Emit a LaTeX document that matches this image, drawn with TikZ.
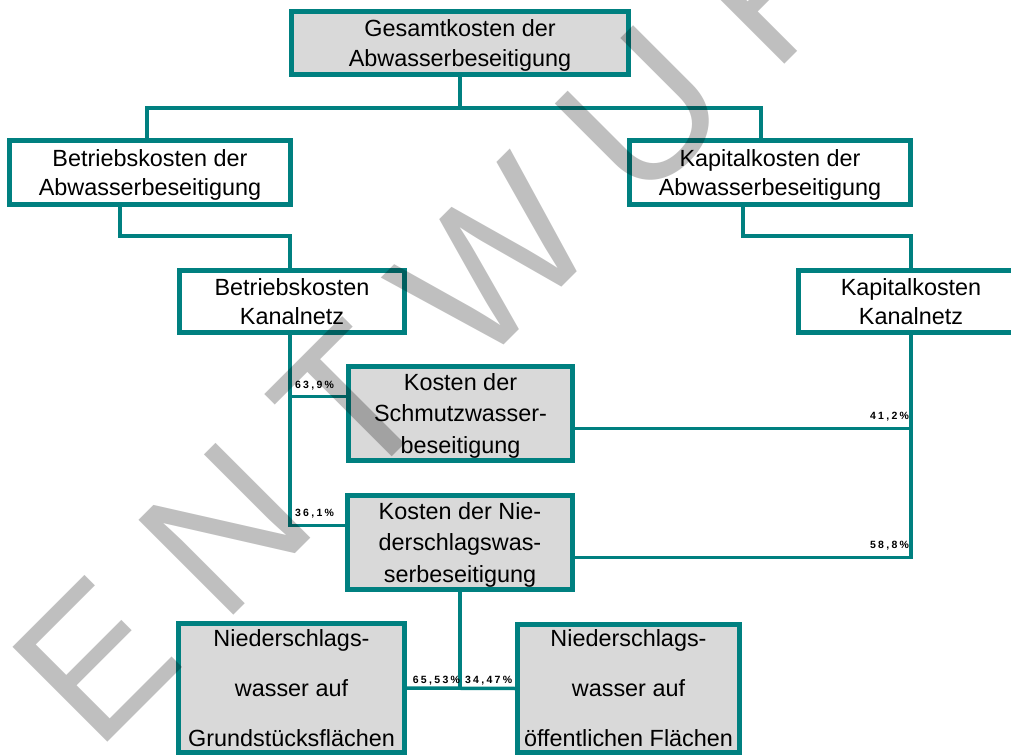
\documentclass[tikz,border=0pt]{standalone}
\usepackage{fontspec}
\setmainfont{Liberation Sans}
\newfontfamily\pctfont[LetterSpace=22]{Liberation Sans}
\newfontfamily\stampfont[LetterSpace=25]{Liberation Sans}
\usepackage{tikz}

\begin{document}
\begin{tikzpicture}[x=1pt,y=1pt,
  box/.style={draw=lineColor,line width=5pt,rectangle,align=center,inner sep=0pt,
    text depth=0pt,font=\fontsize{23.4}{29.5}\selectfont},
  greybox/.style={box,fill=fillColor},
  link/.style={draw=lineColor,line width=3.5pt},
  pct/.style={text=black,inner sep=0pt,outer sep=0pt,
    font=\pctfont\bfseries\fontsize{10.5}{12}\selectfont},
  stamp/.style={text=black,text opacity=0.25,inner sep=0pt,outer sep=0pt,
    font=\stampfont\fontsize{195}{195}\selectfont}]
\definecolor{lineColor}{RGB}{0,128,128}
\definecolor{fillColor}{RGB}{217,217,217}
\path[use as bounding box,fill=white] (0,0) rectangle (1011,755);
\clip (0,0) rectangle (1011,755);

% Kostenarten
\node[greybox,minimum width=337,minimum height=63] (total) at (460,712)
  {Gesamtkosten der\\Abwasserbeseitigung};
\node[box,minimum width=281,minimum height=64] (opCost) at (150,582.5)
  {Betriebskosten der\\Abwasserbeseitigung};
\node[box,minimum width=281,minimum height=64] (capCost) at (770,582.5)
  {Kapitalkosten der\\Abwasserbeseitigung};
\node[box,minimum width=225,minimum height=62] (opNet) at (292,453.5)
  {Betriebskosten\\Kanalnetz};
\node[box,minimum width=225,minimum height=62] (capNet) at (911,453.5)
  {Kapitalkosten\\Kanalnetz};
\node[greybox,minimum width=224,minimum height=94,
  font=\fontsize{23.4}{31.5}\selectfont] (dirty) at (460.5,341.5)
  {Kosten der\\Schmutzwasser-\\beseitigung};
\node[greybox,minimum width=225,minimum height=94,
  font=\fontsize{23.4}{31.5}\selectfont] (rain) at (460,212.5)
  {Kosten der Nie-\\derschlagswas-\\serbeseitigung};
\node[greybox,minimum width=226,minimum height=129,
  font=\fontsize{23.4}{50}\selectfont] (rainPriv) at (291.5,67)
  {Niederschlags-\\wasser auf\\Grundstücksflächen};
\node[greybox,minimum width=222,minimum height=128,
  font=\fontsize{23.4}{50}\selectfont] (rainPub) at (628.5,66.5)
  {Niederschlags-\\wasser auf\\öffentlichen Flächen};

% Verbindungen
\coordinate (split) at (460,647);
\coordinate (trunkL) at ([xshift=-2pt]opNet.south);
\draw[link] (total.south) -- (split);
\draw[link] ([xshift=-3pt]opCost.north) |- (split) -| ([xshift=-9pt]capCost.north);
\draw[link] ([xshift=-30pt]opCost.south) -- ++(0,-29) -| ([xshift=-2pt]opNet.north);
\draw[link] ([xshift=-27pt]capCost.south) -- ++(0,-29) -| (capNet.north);
\draw[link] (trunkL) |- ([yshift=17pt]rain.west);
\draw[link] ([yshift=17pt]dirty.west) -| (trunkL);
\draw[link] ([yshift=-15pt]dirty.east) -| (capNet.south);
\draw[link] ([yshift=-15pt]rain.east) -| (capNet.south);
\draw[link] (rainPriv.east) -- (rainPub.west);
\draw[link] (rain.south) -- (rain.south |- rainPriv.east);

% Anteile
\node[pct,anchor=base west] (shareDirtyOp) at (295,366) {63,9\%};
\node[pct,anchor=base west] (shareRainOp) at (295,238) {36,1\%};
\node[pct,anchor=base east] (shareDirtyCap) at (909,335) {41,2\%};
\node[pct,anchor=base east] (shareRainCap) at (909,206) {58,8\%};
\node[pct,anchor=base east] (sharePriv) at (460,72) {65,53\%};
\node[pct,anchor=base west] (sharePub) at (465,72) {34,47\%};

% Stempel
\node[stamp,rotate=45,anchor=base west] (draftMark) at (96,2) {ENTWURF};
\end{tikzpicture}
\end{document}
